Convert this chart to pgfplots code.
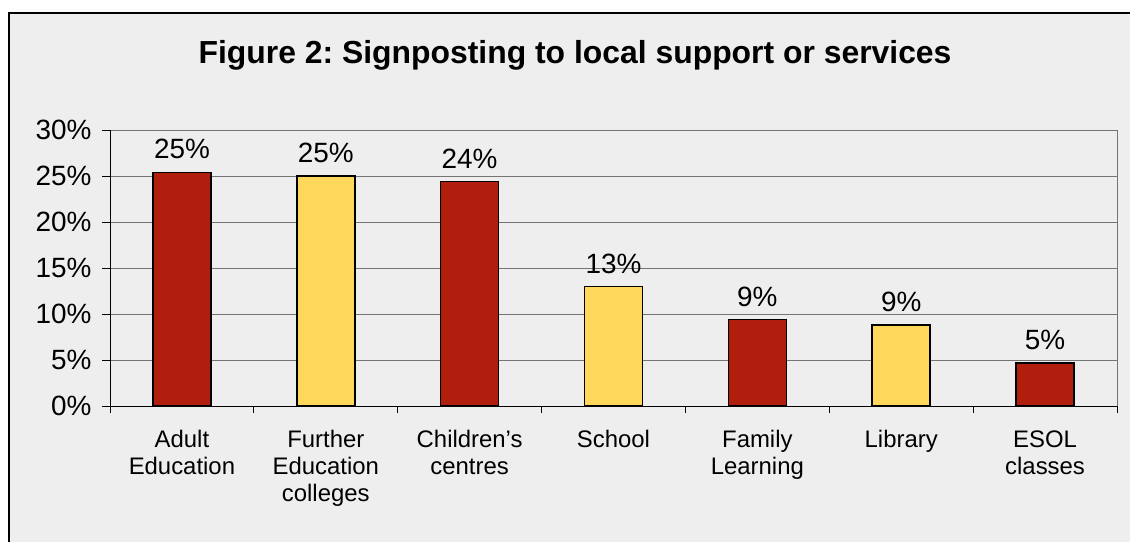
\documentclass[border=0pt]{standalone}
\usepackage{fontspec}
\setmainfont{Liberation Sans}
\usepackage{pgfplots}
\pgfplotsset{compat=1.18}
\definecolor{barred}{HTML}{B11E0E}
\definecolor{baryel}{HTML}{FFD75A}
\definecolor{bgc}{HTML}{EEEEEE}
\definecolor{gridc}{HTML}{747474}
\frenchspacing
\begin{document}
\begin{tikzpicture}[x=1bp,y=1bp]
\useasboundingbox (0,0) rectangle (1130,-542);
\filldraw[fill=bgc, draw=black, line width=1.2bp] (9,-13) rectangle (1140,-560);
\node[font=\bfseries\fontsize{32}{36}\selectfont] at (575,-55) {Figure 2: Signposting to local support or services};
\begin{axis}[
  at={(110bp,-406bp)}, anchor=south west,
  scale only axis, width=1007bp, height=276bp,
  xmin=-0.5, xmax=6.5, ymin=0, ymax=30,
  axis x line*=bottom, axis y line*=left,
  axis line style={black, line width=1bp},
  ytick={0,5,...,30},
  yticklabel={\pgfmathprintnumber{\tick}\%},
  /pgf/number format/assume math mode=true,
  yticklabel style={font=\fontsize{28}{32}\selectfont, xshift=-7bp},
  ymajorgrids, grid style={gridc, line width=1bp},
  xtick={0,...,6},
  xticklabels={{Adult\\Education},{Further\\Education\\colleges},{Children’s\\centres},School,{Family\\Learning},Library,{ESOL\\classes}},
  xticklabel style={align=center, font=\fontsize{24}{27}\selectfont, yshift=-13bp},
  minor xtick={-0.5,0.5,...,6.5},
  tick align=outside,
  major tick length=8bp, minor tick length=7bp,
  major x tick style={draw=none},
  tick style={black, line width=1bp},
  xtick pos=bottom, ytick pos=left,
  clip=false,
  nodes near coords={\pgfmathprintnumber[fixed,precision=0]{\pgfplotspointmeta}\%},
  every node near coord/.append style={font=\fontsize{28}{32}\selectfont, text=black, yshift=9bp},
]
\draw[gridc, line width=1bp] (axis cs:6.5,0) -- (axis cs:6.5,30);
\addplot[ybar, bar width=58bp, bar shift=0pt, fill=barred, draw=black, line width=1.6bp]
  coordinates {(0,25.4) (2,24.4) (4,9.4) (6,4.7)};
\addplot[ybar, bar width=58bp, bar shift=0pt, fill=baryel, draw=black, line width=1.6bp]
  coordinates {(1,25.0) (3,13.0) (5,8.8)};
\end{axis}
\end{tikzpicture}
\end{document}
